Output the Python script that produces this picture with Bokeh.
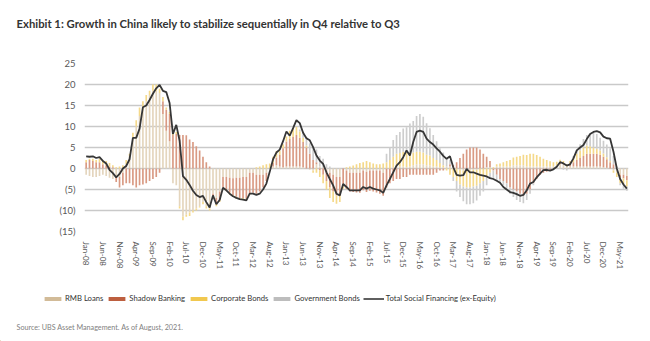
import pandas as pd
from bokeh.plotting import figure
from bokeh.layouts import column
from bokeh.models import (ColumnDataSource, Legend, LegendItem, Label,
                          FixedTicker, Range1d)
from bokeh.embed import file_html
from bokeh.resources import INLINE

# ---------------- data ----------------
months = pd.date_range("2008-01-01", "2021-07-01", freq="MS").strftime("%b-%y").tolist()
tick_idx = list(range(0, len(months), 5))
tick_labels = [months[i] for i in tick_idx]

y_ticks = [-15, -10, -5, 0, 5, 10, 15, 20, 25]
y_tick_labels = ["(15)", "(10)", "(5)", "0", "5", "10", "15", "20", "25"]

series_names = ["RMB Loans", "Shadow Banking", "Corporate Bonds", "Government Bonds"]
line_name = "Total Social Financing (ex-Equity)"
title_text = "Exhibit 1: Growth in China likely to stabilize sequentially in Q4 relative to Q3"
source_text = "Source: UBS Asset Management. As of August, 2021."

rmb_loans = [
    -1.5, -1.8, -2.0, -2.0, -1.8, -1.5, -1.8, -2.2, -2.5, -2.2, -2.0, -1.0, 1.0,
    3.0, 7.5, 10.0, 12.5, 14.0, 16.0, 17.5, 18.5, 18.5, 18.0,
    13.0, 9.0, 6.5, -3.5, -4.0, -9.0, -11.5,
    -11.0, -10.5, -10.0, -9.5, -9.0, -8.0, -9.0, -9.5, -6.0, -7.0, -5.5,
    -2.0, -2.0, -2.2, -2.3, -2.2, -2.2, -2.0, -2.0, -1.0, -1.0, -1.5, -1.5, -1.5, -1.0,
    0.0, 0.5, 0.8, 0.5, 0.3, 0.5, 0.5, 0.5, 0.5, 0.5, 0.3, 0.0, -0.3, -0.5,
    1.0, 0.5, 0.3, -0.5, -1.0, -1.5, -2.0, -2.0, 0.0, -0.5, -1.0, -1.0, -1.0, -1.0, -0.5, -0.8, -0.5, -0.5, -0.5, -0.5, -1.0,
    0.0, 0.0, 0.3, 0.5, 0.5, 0.5, 0.3, 0.5, 0.8, 1.0, 1.0, 1.0, 0.8, 0.8, 0.5, 0.5, 0.3, 0.3, 0.5, 0.5,
    0.3, 0.0, -0.3, -0.5, -0.5, -0.5, -0.3, -0.3, 0.0, 0.0, 0.3, 0.3,
    0.0, 0.5, 0.5, 0.5, 0.5, 0.5, 0.8, 0.8, 0.8, 0.8, 0.5, 0.5, 0.5, 0.5, 0.5, 0.5,
    0.5, 0.5, 0.5, 0.8, 1.0, 1.0, 0.5, 0.5, 0.5, 0.5, 0.5, 0.5, 0.5, 0.5, 0.5, 0.5, 0.5, 0.3, 0.2, 0.0,
    -0.5, -1.0, -1.5, -1.5, -1.8,
]

shadow_banking = [
    1.5, 2.0, 1.8, 1.5, 1.5, 1.0, 0.8, 0.5, 0.3, -1.0, -2.5, -3.0, -3.5,
    -3.5, -4.0, -4.5, -4.0, -3.8, -3.5, -3.0, -2.5, -2.0, -1.0,
    3.0, 5.0, 6.5, 8.0, 8.2, 8.0, 8.0,
    7.9, 6.9, 6.3, 5.3, 4.3, 2.8, 1.5, 0.5, -0.5, -1.5, -2.0,
    -2.5, -3.0, -3.5, -4.0, -4.5, -4.8, -5.0, -5.2, -5.0, -4.8, -4.5, -4.0, -3.0, -2.0,
    0.0, 0.8, 1.8, 2.7, 4.5, 5.9, 6.5, 7.0, 7.5, 6.8, 6.0, 5.0, 3.5, 2.0,
    0.5, -0.5, -1.5, -2.5, -3.5, -4.0, -4.4, -4.5, -4.3, -4.4, -4.5, -4.6, -4.7, -4.8, -4.7, -4.8, -4.8, -5.0, -5.2, -5.5, -5.5,
    -4.5, -3.5, -3.0, -2.5, -2.5, -2.0, -2.0, -1.5, -1.5, -1.5, -1.5, -1.5, -1.5, -1.5, -1.5, -1.0, -0.5, -0.5, 0.0, 0.5,
    0.5, 1.5, 2.5, 3.5, 4.5, 5.0, 5.0, 5.0, 4.5, 3.5, 2.5, 1.5,
    -0.5, -1.5, -2.5, -3.0, -3.5, -4.5, -5.0, -5.5, -6.0, -6.5, -6.0, -5.0, -3.5, -2.5, -1.5, -1.0,
    -0.8, -0.5, -0.3, 0.0, 0.3, 0.3, 0.0, 0.5, 1.0, 1.5, 2.0, 2.5, 3.0, 3.0, 3.0, 3.0, 2.8, 2.5, 2.0, 1.5,
    1.0, 0.0, -0.5, -0.8, -1.0,
]

corporate_bonds = [
    0.5, 0.3, 0.5, 0.5, 0.8, 1.0, 1.0, 0.8, 0.5, 0.3, 0.5, 0.8, 1.0,
    0.5, 1.0, 1.5, 2.0, 2.0, 1.5, 1.0, 1.5, 1.5, 1.0,
    1.0, 0.5, 0.5, 0.5, 0.5, -0.5, -0.8,
    -0.5, -0.8, -0.5, -0.5, -0.3, -0.5, -0.5, -0.5, -0.3, -0.5, -0.5,
    0.0, -0.3, -0.5, -0.5, -0.5, -0.5, -0.4, -0.3, -0.2, 0.0, 0.3, 0.5, 0.8, 1.0,
    1.2, 1.5, 1.5, 1.0, 1.0, 1.2, 2.0, 2.0, 1.9, 1.5, 1.0, 0.5, 0.0, -0.5,
    -1.0, -1.5, -2.0, -2.0, -2.5, -2.5, -2.0, -1.5, -0.5, 0.3, 0.5, 0.7, 1.0, 1.3, 1.5, 1.8, 1.5, 1.2, 1.0, 1.0, 1.2,
    1.5, 2.0, 2.5, 3.0, 3.2, 3.5, 3.5, 3.2, 3.0, 3.0, 3.0, 2.8, 2.5, 2.3, 2.0, 1.5, 1.0, 0.5, -0.5, -1.5,
    -2.0, -3.0, -3.5, -3.8, -4.0, -4.0, -4.0, -3.8, -3.5, -3.0, -2.0, -1.0,
    0.3, 0.5, 0.7, 1.0, 1.3, 1.5, 1.8, 2.0, 2.2, 2.5, 2.7, 3.0, 3.0, 2.7, 2.3, 1.8,
    1.5, 1.2, 1.0, 0.8, 0.8, 0.5, 0.5, 0.8, 1.0, 1.5, 1.8, 2.0, 2.0, 1.8, 1.5, 1.2, 1.0, 0.8, 0.5, 0.3,
    -0.5, -1.0, -1.5, -1.5, -1.5,
]

government_bonds = [
    0.0, 0.0, 0.0, 0.0, 0.0, 0.0, 0.0, 0.0, 0.0, 0.0, 0.0, 0.0, 0.0,
    0.0, 0.0, 0.0, 0.0, 0.0, 0.0, 0.0, 0.0, 0.0, 0.0,
    0.0, 0.0, 0.0, 0.0, 0.0, 0.0, 0.0,
    0.0, 0.0, 0.0, 0.0, 0.0, 0.0, 0.0, 0.0, 0.0, 0.0, 0.0,
    0.0, 0.0, 0.0, 0.0, 0.0, 0.0, 0.0, 0.0, 0.0, 0.0, 0.0, 0.0, 0.0, 0.0,
    0.0, 0.0, 0.0, 0.0, 0.0, 0.0, 0.0, 0.0, 0.0, 0.5, 1.5, 2.0, 2.5, 3.0,
    3.0, 2.5, 2.0, 1.0, 0.5, 0.0, 0.0, 0.0, 0.0, 0.0, 0.0, 0.0, 0.0, 0.0, 0.0, 0.0, 0.0, 0.0, 0.0, 0.0, 0.0,
    2.0, 3.0, 4.0, 4.5, 5.0, 5.5, 6.0, 7.0, 7.5, 8.5, 9.0, 8.5, 7.5, 6.5, 5.5, 4.5, 3.5, 3.0, 2.0, 1.0,
    -1.0, -2.5, -3.0, -3.5, -4.0, -4.0, -4.0, -3.5, -3.0, -2.5, -2.0, -1.5,
    -2.0, -1.5, -1.0, -1.0, -1.2, -1.5, -1.8, -2.0, -2.0, -1.8, -1.5, -1.0, -0.5, 0.0, 0.0, 0.0,
    0.0, 0.0, 0.0, 0.0, 0.0, -0.3, -0.5, 0.0, 0.5, 1.0, 1.5, 2.0, 2.5, 3.0, 3.5, 3.5, 3.0, 3.0, 3.0, 3.0,
    2.0, 0.5, -0.5, -1.0, -1.0,
]

total_social_financing = [
    2.9, 2.8, 2.9, 2.5, 2.7, 1.8, 1.2, -0.3, -1.1, -2.1,
    -1.3, 0.0, 0.6, 2.2, 7.3, 7.3, 9.5, 14.6, 15.0, 16.3,
    17.8, 19.1, 19.9, 18.5, 18.2, 15.6, 8.2, 10.4, 6.6, -1.8,
    -2.7, -3.9, -5.3, -6.3, -6.8, -6.5, -8.0, -9.3, -6.4, -8.5,
    -7.5, -4.6, -5.2, -6.0, -6.6, -7.0, -7.3, -7.4, -7.6, -6.0,
    -6.0, -6.3, -6.0, -5.0, -3.6, -0.8, 2.2, 3.8, 4.5, 6.5,
    8.8, 7.8, 9.6, 11.5, 10.8, 8.5, 7.2, 6.7, 5.1, 3.1,
    1.9, 1.1, -0.9, -2.5, -4.0, -6.0, -6.4, -3.7, -4.4, -5.2,
    -5.2, -5.2, -5.2, -4.4, -4.8, -4.4, -4.8, -5.0, -5.2, -5.8,
    -4.0, -2.5, -0.9, 0.7, 1.5, 2.7, 4.3, 3.1, 6.3, 8.7,
    9.0, 8.7, 7.1, 6.3, 5.7, 4.8, 4.0, 3.0, 2.3, 2.9,
    0.3, -1.5, -1.7, -1.6, -0.1, -0.9, -0.9, -1.2, -1.5, -1.7,
    -1.9, -2.3, -2.5, -2.9, -3.4, -4.4, -5.0, -5.6, -5.8, -6.1,
    -6.5, -6.3, -5.2, -3.6, -3.2, -2.1, -1.2, -0.4, -0.3, -0.5,
    -0.2, 0.4, 1.5, 1.2, 0.7, 1.0, 2.4, 4.3, 5.0, 5.6,
    7.0, 8.2, 8.7, 8.9, 8.6, 7.6, 7.2, 7.1, 4.0, 0.0,
    -2.5, -3.8, -4.8,
]

# ---------------- styling ----------------
bar_colors = ["#e4d5bd", "#d99a83", "#f5d98a", "#cdcdcd"]
legend_colors = ["#d2bb98", "#bd5f3f", "#f1c84f", "#bdbdbd"]
FONT = "Lato"
W = 650
H_TOP, H_MID, H_BOT = 45, 245, 51


def blank_fig(h):
    f = figure(width=W, height=h, output_backend="svg", toolbar_location=None,
               x_axis_type=None, y_axis_type=None, min_border=0,
               x_range=Range1d(0, W), y_range=Range1d(0, h))
    f.frame_align = False
    f.outline_line_color = None
    f.xgrid.grid_line_color = None
    f.ygrid.grid_line_color = None
    return f


# ---- title strip ----
top = blank_fig(H_TOP)
top.add_layout(Label(x=16, y=H_TOP - 23, text=title_text, text_font=FONT,
                     text_font_style="bold", text_font_size="11.3px",
                     text_color="#333333", text_baseline="alphabetic"))

# ---- chart ----
n = len(months)
p = figure(width=W, height=H_MID, output_backend="svg", toolbar_location=None,
           x_range=Range1d(-0.5, n - 0.5), y_range=Range1d(-15, 25),
           min_border_left=84, min_border_right=22, min_border_top=18,
           min_border_bottom=59)
p.frame_align = False
p.outline_line_color = None

pos = [0.0] * n
neg = [0.0] * n
all_series = [rmb_loans, shadow_banking, corporate_bonds, government_bonds]
for vals, col in zip(all_series, bar_colors):
    bottoms, tops = [], []
    for i, v in enumerate(vals):
        if v >= 0:
            bottoms.append(pos[i]); tops.append(pos[i] + v); pos[i] += v
        else:
            tops.append(neg[i]); bottoms.append(neg[i] + v); neg[i] += v
    src = ColumnDataSource(dict(x=list(range(n)), bottom=bottoms, top=tops))
    p.vbar(x="x", bottom="bottom", top="top", width=0.5, source=src,
           fill_color=col, line_color=None)

line_src = ColumnDataSource(dict(x=list(range(n)), y=total_social_financing))
p.line("x", "y", source=line_src, line_color="#363636", line_width=1.8)

p.yaxis.ticker = FixedTicker(ticks=y_ticks)
p.yaxis.major_label_overrides = {t: l for t, l in zip(y_ticks, y_tick_labels)}
p.yaxis.axis_line_color = None
p.yaxis.major_tick_line_color = None
p.yaxis.minor_tick_line_color = None
p.yaxis.major_label_text_font = FONT
p.yaxis.major_label_text_font_size = "9.5px"
p.yaxis.major_label_text_color = "#595959"
p.yaxis.major_label_standoff = 3

p.xaxis.ticker = FixedTicker(ticks=tick_idx)
p.xaxis.major_label_overrides = {i: l for i, l in zip(tick_idx, tick_labels)}
p.xaxis.major_label_orientation = "vertical"
p.xaxis.axis_line_color = None
p.xaxis.major_tick_line_color = None
p.xaxis.minor_tick_line_color = None
p.xaxis.major_label_text_font = FONT
p.xaxis.major_label_text_font_size = "8px"
p.xaxis.major_label_text_color = "#595959"
p.xaxis.major_label_standoff = 4

p.xgrid.grid_line_color = None
p.ygrid.grid_line_color = "#c9c9c9"
p.ygrid.grid_line_width = 1.6

# ---- legend + source strip ----
bot = blank_fig(H_BOT)
legend_items = []
for name, col in zip(series_names, legend_colors):
    # proxy glyph placed outside the visible range; only its legend swatch shows
    r = bot.vbar(x=[-100], top=[1], width=1, fill_color=col, line_color=None)
    legend_items.append(LegendItem(label=name, renderers=[r]))
lr = bot.line(x=[-100, -99], y=[0, 0], line_color="#363636", line_width=1.6)
legend_items.append(LegendItem(label=line_name, renderers=[lr]))

legend = Legend(items=legend_items, orientation="horizontal", location=(42, 38),
                glyph_width=21, glyph_height=5, label_standoff=2, spacing=3,
                padding=0, margin=0, border_line_color=None,
                background_fill_alpha=0, label_text_font=FONT,
                label_text_font_size="7.7px", label_text_color="#333333",
                label_height=8)
bot.add_layout(legend, "center")
bot.add_layout(Label(x=16, y=H_BOT - 37, text=source_text, text_font=FONT,
                     text_font_size="7.2px", text_color="#7f7f7f",
                     text_baseline="alphabetic"))

layout = column(top, p, bot, spacing=0)
open("out.html", "w").write(file_html(layout, INLINE))
